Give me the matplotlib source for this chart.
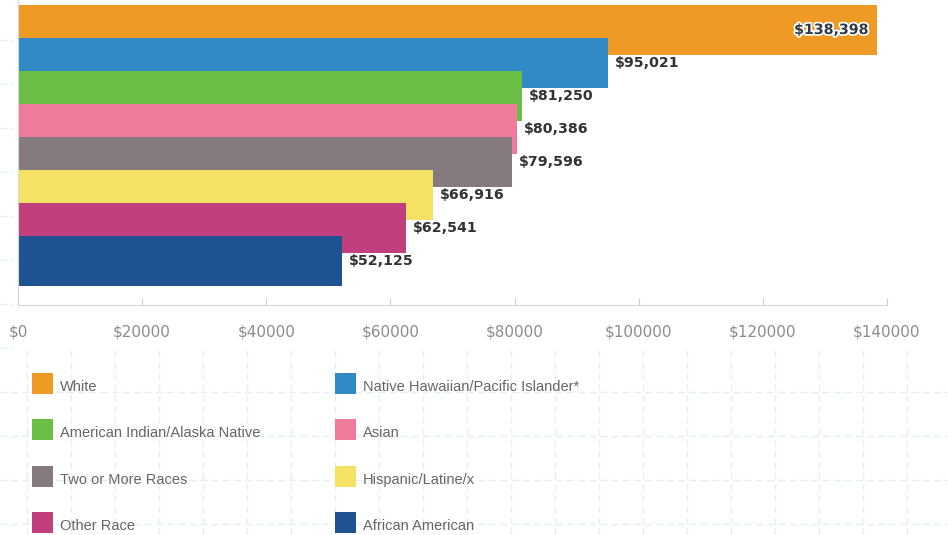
import matplotlib
matplotlib.use('Agg')
import matplotlib.pyplot as plt
import matplotlib.patheffects as pe
from matplotlib.patches import Rectangle
from matplotlib.lines import Line2D

# data
groups = ['White', 'Native Hawaiian/Pacific Islander*', 'American Indian/Alaska Native',
          'Asian', 'Two or More Races', 'Hispanic/Latine/x', 'Other Race', 'African American']
incomes = [138398, 95021, 81250, 80386, 79596, 66916, 62541, 52125]
value_labels = ['$138,398', '$95,021', '$81,250', '$80,386', '$79,596', '$66,916', '$62,541', '$52,125']
colors = ['#EE9A25', '#3189C6', '#6BBE45', '#F07A9A', '#857A7F', '#F5E264', '#C03F7C', '#1F5290']
ticks = [0, 20000, 40000, 60000, 80000, 100000, 120000, 140000]
tick_labels = ['$0', '$20000', '$40000', '$60000', '$80000', '$100000', '$120000', '$140000']

W, H = 948, 535
fig = plt.figure(figsize=(W / 100, H / 100), dpi=100)
fig.patch.set_facecolor('white')


def fx(px):
    return px / W


def fy(py):
    return 1 - py / H


# faint graph-paper background
grid_col = '#e4eef7'
for gx in range(27, W, 44):
    fig.add_artist(Line2D([fx(gx), fx(gx)], [0, 1], transform=fig.transFigure,
                          color=grid_col, lw=1, dashes=(5, 3), zorder=-5))
for gy in range(-4, H, 44):
    fig.add_artist(Line2D([0, 1], [fy(gy), fy(gy)], transform=fig.transFigure,
                          color=grid_col, lw=1, dashes=(5, 3), zorder=-5))
# the chart block sits on a white card
fig.add_artist(Rectangle((fx(14), fy(350)), 1 - fx(14), fy(0) - fy(350),
                         transform=fig.transFigure, color='white', lw=0, zorder=-4))

# bar chart
ax = fig.add_axes([fx(18), fy(305), fx(887) - fx(18), fy(0) - fy(305)])
ax.set_facecolor('white')
pos = list(range(len(groups)))
ax.barh(pos, incomes, height=1.52, color=colors, align='center', zorder=2)
ax.set_xlim(0, 140000)
ax.set_ylim(8.333, -0.909)

for i, (v, lab) in enumerate(zip(incomes, value_labels)):
    if i == 0:
        ax.annotate(lab, (v, i), xytext=(-6, 0), textcoords='offset points',
                    ha='right', va='center', fontsize=10.2, fontweight='bold', color='#2f3a45',
                    path_effects=[pe.withStroke(linewidth=2.5, foreground='white')], zorder=5)
    else:
        ax.annotate(lab, (v, i), xytext=(5, 0), textcoords='offset points',
                    ha='left', va='center', fontsize=10.2, fontweight='bold', color='#333333',
                    zorder=5)

for side in ['top', 'right']:
    ax.spines[side].set_visible(False)
for side in ['left', 'bottom']:
    ax.spines[side].set_color('#d6d6d6')
ax.set_yticks([])
ax.set_xticks(ticks)
ax.set_xticklabels(tick_labels)
ax.tick_params(axis='x', direction='in', length=5, color='#cccccc',
               labelcolor='#8c8c8c', labelsize=11, pad=14)

# legend, laid out in two columns (row-major order)
for i, (name, c) in enumerate(zip(groups, colors)):
    row, col = i // 2, i % 2
    sx = 32 if col == 0 else 335
    sy = 373 + row * 46.3
    fig.add_artist(Rectangle((fx(sx), fy(sy + 21)), 21 / W, 21 / H,
                             transform=fig.transFigure, color=c, lw=0))
    fig.text(fx(sx + 28), fy(sy + 14), name, fontsize=10.5, color='#666666',
             family=['Liberation Sans', 'DejaVu Sans'], ha='left', va='center')

fig.savefig('out.png', dpi=100)
